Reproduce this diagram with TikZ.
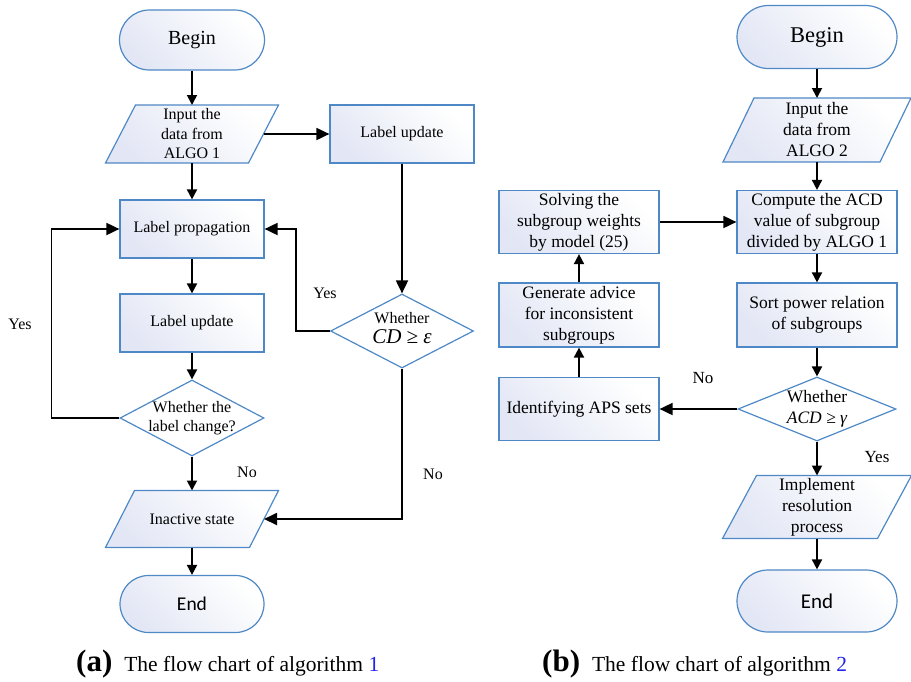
\documentclass[tikz,border=0pt]{standalone}
\usepackage{fontspec}
\setmainfont{Liberation Serif}
\newfontfamily\endfont{Carlito}
\usetikzlibrary{shapes.geometric,shapes.misc,arrows.meta,calc}
\definecolor{bord}{HTML}{4F88C6}
\definecolor{lav}{HTML}{E3E7F5}
\newcommand{\mypara}[6]{%
  \node[minimum width=#4, minimum height=#5, inner sep=0pt, outer sep=0pt] (#1) at (#2,#3) {};
  \path[pshape] ($(#1.north west)+(#6,0)$) -- (#1.north east) -- ($(#1.south east)-(#6,0)$) -- (#1.south west) -- cycle;
}
\begin{document}
\begin{tikzpicture}[x=1pt,y=-1pt,
  grad/.style={top color=lav, bottom color=white, shading angle=135},
  box/.style={rectangle, draw=bord, line width=1.2pt, grad, inner sep=1pt, align=center},
  term/.style={rounded rectangle, draw=bord, line width=1.2pt, grad, inner sep=0pt},
  pshape/.style={draw=bord, line width=1.2pt, grad},
  dia/.style={diamond, draw=bord, line width=1.2pt, fill=white, inner sep=0pt},
  fa/.style={font=\fontsize{16}{19.5}\selectfont},
  fb/.style={font=\fontsize{17.5}{21}\selectfont},
  arr/.style={line width=1.8pt, -{Triangle[length=10pt,width=10pt]}},
  arrL/.style={line width=1.8pt, -{Triangle[length=13pt,width=12pt]}},
  lbl/.style={font=\fontsize{16}{19}\selectfont, inner sep=0pt},
]
\useasboundingbox (0,0) rectangle (911,681);

% ---------- (a) ----------
\node[term, minimum width=145, minimum height=60, font=\fontsize{20}{24}\selectfont] (b1) at (192,40) {Begin};
\mypara{in1}{192}{134}{173}{58}{30}
\node[fa, align=center, inner sep=0pt] (in1t) at (in1) {Input the\\data from\\ALGO 1};
\coordinate (in1e) at ($(in1.east)-(15,0)$);
\node[box, fa, minimum width=144, minimum height=58] (lu1) at (402,134) {Label update};
\node[box, fa, minimum width=144, minimum height=58] (lp) at (192,229) {Label propagation};
\node[box, fa, minimum width=144, minimum height=58] (lu2) at (192,323) {Label update};
\node[dia, minimum width=144, minimum height=76, label={[fa,align=center]center:{Whether the\\label change?}}] (d1) at (192,418) {};
\node[dia, minimum width=143, minimum height=74, label={[fa,align=center,yshift=3pt]center:{Whether\\{\fontsize{21}{23}\selectfont\itshape CD ≥ ε}}}] (d2) at (402,331) {};
\mypara{ia}{192}{519}{173}{57}{29}
\node[fa, inner sep=0pt] (iat) at (ia) {Inactive state};
\coordinate (iae) at ($(ia.east)-(14.5,0)$);
\node[term, minimum width=144, minimum height=57, font=\endfont\fontsize{19.5}{23}\selectfont] (e1) at (192,604) {End};

\draw[arr] (b1.south) -- (in1.north);
\draw[arrL] (in1e) -- (lu1.west);
\draw[arr] (in1.south) -- (lp.north);
\draw[arr] (lp.south) -- (lu2.north);
\draw[arr] (lu2.south) -- (d1.north);
\draw[arrL] (d1.west) -- ++(-68,0) |- (lp.west);
\draw[arrL] (lu1.south) -- (d2.north);
\draw[arrL] (d2.west) -- ++(-34,0) |- (lp.east);
\draw[arrL] (d2.south) |- (iae);
\draw[arr] (d1.south) -- (ia.north);
\draw[arr] (ia.south) -- (e1.north);

\node[lbl] (y1) at (20,324) {Yes};
\node[lbl] (y2) at (325,293) {Yes};
\node[lbl] (n1) at (247,472) {No};
\node[lbl] (n2) at (433,474) {No};

% ---------- (b) ----------
\node[term, minimum width=160, minimum height=63, font=\fontsize{22.5}{26}\selectfont] (b2) at (817,37) {Begin};
\mypara{in2}{817}{130}{188}{64}{31}
\node[fb, align=center, inner sep=0pt] (in2t) at (in2) {Input the\\data from\\ALGO 2};
\node[box, fb, minimum width=160, minimum height=63] (cp) at (817,222) {Compute the ACD\\value of subgroup\\divided by ALGO 1};
\node[box, fb, minimum width=160, minimum height=64] (so) at (817,315) {Sort power relation\\of subgroups};
\node[dia, minimum width=158, minimum height=64, label={[fb,align=center]center:{Whether\\{\itshape ACD ≥ γ}}}] (d3) at (817,409) {};
\node[box, fb, minimum width=160, minimum height=63] (id) at (579,409) {Identifying APS sets};
\node[box, fb, minimum width=160, minimum height=64] (ge) at (579,315) {Generate advice\\for inconsistent\\subgroups};
\node[box, fb, minimum width=160, minimum height=63] (sv) at (579,222) {Solving the\\subgroup weights\\by model (25)};
\mypara{im}{817}{507}{189}{63}{34}
\node[fb, align=center, inner sep=0pt] (imt) at (im) {Implement\\resolution\\process};
\node[term, minimum width=160, minimum height=62, font=\endfont\fontsize{21}{25}\selectfont] (e2) at (817,601) {End};

\draw[arr] (b2.south) -- (in2.north);
\draw[arr] (in2.south) -- (cp.north);
\draw[arr] (cp.south) -- (so.north);
\draw[arr] (so.south) -- (d3.north);
\draw[arrL] (d3.west) -- (id.east);
\draw[arr] (id.north) -- (ge.south);
\draw[arr] (ge.north) -- (sv.south);
\draw[arrL] (sv.east) -- (cp.west);
\draw[arr] (d3.south) -- (im.north);
\draw[arr] (im.south) -- (e2.north);

\node[lbl, font=\fontsize{17}{20}\selectfont] (n3) at (703,378) {No};
\node[lbl, font=\fontsize{17}{20}\selectfont] (y3) at (877,457) {Yes};

% ---------- captions ----------
\node[anchor=base west, inner sep=0pt] (capa) at (76,671) {{\fontsize{31}{31}\selectfont\bfseries (a)}\hspace{12pt}{\fontsize{21.5}{24}\selectfont The flow chart of algorithm \textcolor[HTML]{2222EE}{1}}};
\node[anchor=base west, inner sep=0pt] (capb) at (542,671) {{\fontsize{31}{31}\selectfont\bfseries (b)}\hspace{12pt}{\fontsize{21.5}{24}\selectfont The flow chart of algorithm \textcolor[HTML]{2222EE}{2}}};
\end{tikzpicture}
\end{document}
